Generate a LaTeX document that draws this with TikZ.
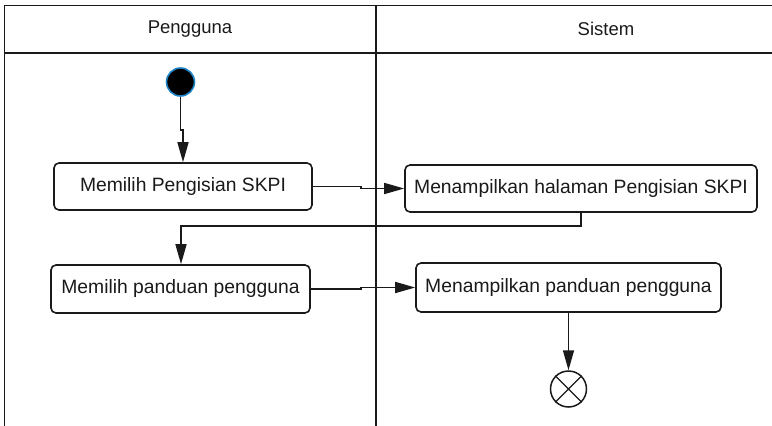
\documentclass[tikz,border=0pt]{standalone}
\usepackage{fontspec}
\setmainfont{Liberation Sans}
\usetikzlibrary{arrows.meta}
\definecolor{startblue}{HTML}{1F84C6}
\definecolor{inkgray}{HTML}{1A1A1A}
\begin{document}
\begin{tikzpicture}[x=1pt,y=-1pt,
  lane/.style={line width=1.6pt, draw=inkgray},
  action/.style={draw=inkgray, line width=1.6pt, rounded corners=5pt, fill=white,
    inner sep=0pt, font=\fontsize{19.3}{23}\selectfont, text=inkgray},
  flow/.style={line width=1.5pt, draw=inkgray,
    -{Triangle[length=20pt,width=11pt]}},
  lanetitle/.style={font=\fontsize{18.5}{22}\selectfont, text=inkgray}]
\useasboundingbox (0,0) rectangle (772,426);

% swimlane frame
\draw[lane] (772,5.5) -- (4.5,5.5) -- (4.5,426);
\draw[lane] (376,5.5) -- (376,426);
\draw[lane] (4.5,53) -- (772,53);
\node[lanetitle] (lanea) at (190,29) {Pengguna};
\node[lanetitle] (laneb) at (606,29) {Sistem};

% initial and final states
\node[circle, fill=black, draw=startblue, line width=1.6pt,
  minimum size=28pt, inner sep=0pt] (start) at (180.5,82) {};
\node[circle, draw=inkgray, line width=1.5pt, minimum size=36pt,
  inner sep=0pt] (stop) at (568.5,389) {};
\draw[line width=1.3pt, inkgray] (stop.north east) -- (stop.south west)
  (stop.north west) -- (stop.south east);

% actions
\node[action, minimum width=258pt, minimum height=47pt] (b1) at (183,186.5)
  {Memilih Pengisian SKPI};
\node[action, minimum width=352pt, minimum height=47pt] (b2) at (581,188.5)
  {Menampilkan halaman Pengisian SKPI};
\node[action, minimum width=259pt, minimum height=48pt] (b3) at (180.5,289)
  {Memilih panduan pengguna};
\node[action, minimum width=305pt, minimum height=49pt] (b4) at (568.5,287.5)
  {Menampilkan panduan pengguna};

% control flow
\coordinate (j1) at (180.5,130);
\draw[flow] (start.south) -- (j1) -- ++(2.5,0) -- (b1.north -| 183,0);
\draw[flow] (b1.east) -- ++(48,0) |- (b2.west);
\coordinate (j2) at (181,226);
\draw[flow] (b2.south) |- (j2) -- (b3.north -| j2);
\draw[flow] (b3.east) -- ++(50,0) |- (b4.west);
\draw[flow] (b4.south) -- (stop.north);
\end{tikzpicture}
\end{document}
